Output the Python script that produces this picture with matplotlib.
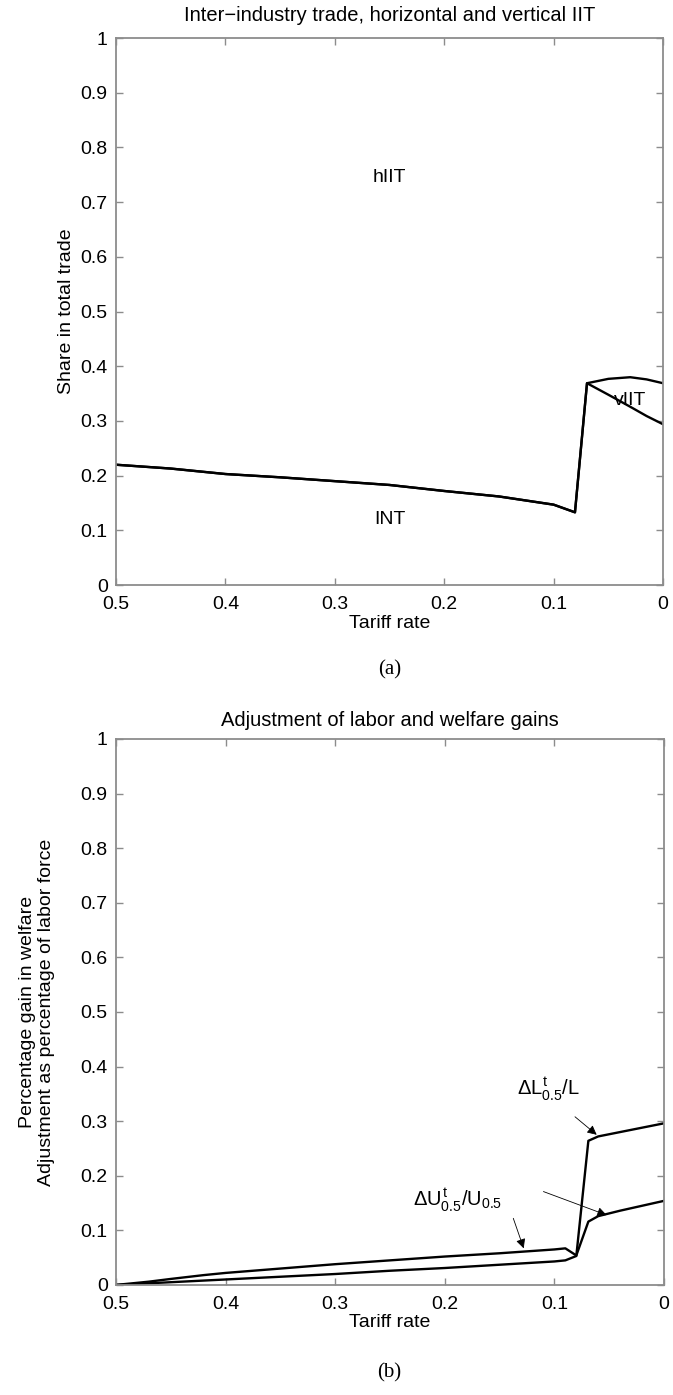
import matplotlib
matplotlib.use('Agg')
import matplotlib.pyplot as plt

plt.rcParams.update({
    'font.family': ['Liberation Sans', 'DejaVu Sans'],
    'font.size': 14,
    'mathtext.fontset': 'custom',
    'mathtext.rm': 'Liberation Sans',
    'mathtext.it': 'Liberation Sans',
    'mathtext.bf': 'Liberation Sans:bold',
})

SPINE = '#8c8c8c'

# ---- panel (a): trade shares ----
tariff_a = [0.5, 0.45, 0.42, 0.4, 0.35, 0.3, 0.25, 0.2, 0.15, 0.1, 0.0805,
            0.0695, 0.05, 0.03, 0.015, 0.0]
int_share = [0.220, 0.213, 0.207, 0.203, 0.197, 0.190, 0.183, 0.172, 0.162,
             0.147, 0.133, 0.369, 0.348, 0.326, 0.309, 0.294]
int_plus_viit = [0.220, 0.213, 0.207, 0.203, 0.197, 0.190, 0.183, 0.172, 0.162,
                 0.147, 0.133, 0.369, 0.377, 0.380, 0.376, 0.369]

# ---- panel (b): labor adjustment and welfare ----
tariff_b = [0.5, 0.47, 0.45, 0.42, 0.4, 0.35, 0.3, 0.25, 0.2, 0.15, 0.1,
            0.09, 0.08, 0.069, 0.06, 0.04, 0.02, 0.0]
welfare = [0.0, 0.006, 0.011, 0.018, 0.022, 0.030, 0.038, 0.045, 0.052,
           0.058, 0.065, 0.067, 0.054, 0.116, 0.126, 0.136, 0.145, 0.154]
labor = [0.0, 0.003, 0.005, 0.008, 0.010, 0.015, 0.020, 0.026, 0.031,
         0.037, 0.043, 0.045, 0.053, 0.264, 0.272, 0.280, 0.288, 0.296]

xticks = [0.5, 0.4, 0.3, 0.2, 0.1, 0]
xticklabels = ['0.5', '0.4', '0.3', '0.2', '0.1', '0']
yticks = [0, 0.1, 0.2, 0.3, 0.4, 0.5, 0.6, 0.7, 0.8, 0.9, 1]
yticklabels = ['0', '0.1', '0.2', '0.3', '0.4', '0.5', '0.6', '0.7', '0.8', '0.9', '1']


def style_axes(ax, title, title_pad):
    ax.set_xlim(0.5, 0)
    ax.set_ylim(0, 1)
    ax.set_xticks(xticks)
    ax.set_xticklabels(xticklabels)
    ax.set_yticks(yticks)
    ax.set_yticklabels(yticklabels)
    for s in ax.spines.values():
        s.set_color(SPINE)
        s.set_linewidth(1.3)
    ax.tick_params(direction='in', length=5, width=1.0, color=SPINE,
                   top=True, right=True, labelsize=14)
    ax.tick_params(axis='x', pad=8)
    ax.tick_params(axis='y', pad=6)
    ax.set_title(title, fontsize=14.5, pad=title_pad)
    ax.set_xlabel('Tariff rate', fontsize=14, labelpad=1)


fig = plt.figure(figsize=(6.73, 13.95), dpi=100)
ax1 = fig.add_axes([0.1724, 0.5806, 0.8128, 0.3921])
ax2 = fig.add_axes([0.1724, 0.0789, 0.8142, 0.3914])

# panel (a)
ax1.plot(tariff_a, int_share, color='black', lw=1.7)
ax1.plot(tariff_a, int_plus_viit, color='black', lw=1.7)
style_axes(ax1, 'Inter\u2212industry trade, horizontal and vertical IIT', 12)
ax1.set_ylabel('Share in total trade', fontsize=14, labelpad=4)
ax1.text(0.25, 0.745, 'hIIT', ha='center', va='center', fontsize=14)
ax1.text(0.25, 0.12, 'INT', ha='center', va='center', fontsize=14)
ax1.text(0.030, 0.338, 'vIIT', ha='center', va='center', fontsize=14)
fig.text(0.5785, 0.5197, '(a)', ha='center', va='center', fontsize=15,
         family=['Liberation Serif', 'DejaVu Serif'])

# panel (b)
ax2.plot(tariff_b, welfare, color='black', lw=1.7)
ax2.plot(tariff_b, labor, color='black', lw=1.7)
style_axes(ax2, 'Adjustment of labor and welfare gains', 9)
ax2.set_ylabel('Percentage gain in welfare\nAdjustment as percentage of labor force',
               fontsize=14, labelpad=18, linespacing=1.15)

arrow = dict(arrowstyle='-|>', color='black', lw=0.6, mutation_scale=14,
             shrinkA=0, shrinkB=0)
ax2.text(0.105, 0.359, r'$\Delta L^{t}_{0.5}/L$', ha='center', va='center',
         fontsize=14.5)
ax2.annotate('', xy=(0.0614, 0.275), xytext=(0.0812, 0.308), arrowprops=arrow)
ax2.text(0.188, 0.157, r'$\Delta U^{t}_{0.5}/U_{0.5}$', ha='center',
         va='center', fontsize=14.5)
ax2.annotate('', xy=(0.128, 0.067), xytext=(0.1375, 0.122), arrowprops=arrow)
ax2.annotate('', xy=(0.0524, 0.128), xytext=(0.110, 0.171), arrowprops=arrow)
fig.text(0.5785, 0.016, '(b)', ha='center', va='center', fontsize=15,
         family=['Liberation Serif', 'DejaVu Serif'])

fig.savefig('out.png', dpi=100)
